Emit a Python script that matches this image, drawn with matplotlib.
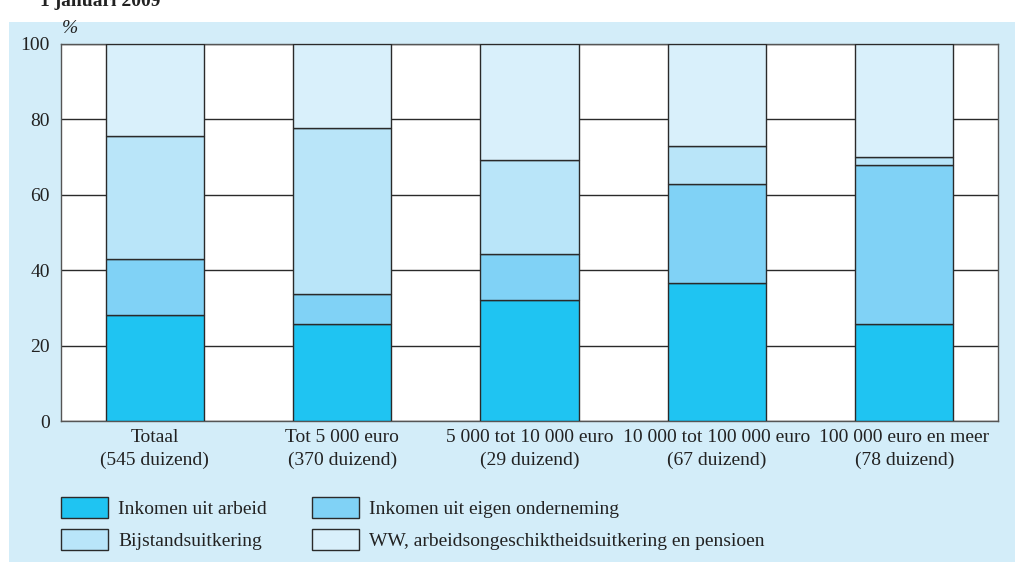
import matplotlib.pyplot as plt
import numpy as np
from matplotlib.patches import Rectangle

# data (% per inkomensklasse)
categories = ['Totaal\n(545 duizend)', 'Tot 5 000 euro\n(370 duizend)',
              '5 000 tot 10 000 euro\n(29 duizend)', '10 000 tot 100 000 euro\n(67 duizend)',
              '100 000 euro en meer\n(78 duizend)']
arbeid = [28.0, 25.7, 32.1, 36.5, 25.7]
onderneming = [15.0, 8.0, 12.2, 26.4, 42.2]
bijstand = [32.7, 44.0, 24.9, 10.0, 2.1]
ww = [24.3, 22.3, 30.8, 27.1, 30.0]
series_names = ['Inkomen uit arbeid', 'Inkomen uit eigen onderneming',
                'Bijstandsuitkering', 'WW, arbeidsongeschiktheidsuitkering en pensioen']
colors = ['#1fc4f2', '#80d2f6', '#b9e5f9', '#d9f0fb']

plt.rcParams['font.family'] = ['Liberation Serif', 'DejaVu Serif']
FS = 14

fig = plt.figure(figsize=(10.15, 5.62), dpi=100)
fig.patch.set_facecolor('white')
fig.add_artist(Rectangle((9 / 1015, 0), 1, 1 - 22 / 562, transform=fig.transFigure,
                         facecolor='#d3edf9', edgecolor='none', zorder=-10))
fig.text(40 / 1015, 1 - 6 / 562, '1 januari 2009', fontsize=14, fontweight='bold',
         color='#222222', va='baseline', ha='left')

ax = fig.add_axes([61 / 1015, 1 - 421 / 562, 937 / 1015, 377 / 562])
ax.set_facecolor('white')
x = np.arange(len(categories))
bottom = np.zeros(len(categories))
for vals, col, name in zip([arbeid, onderneming, bijstand, ww], colors, series_names):
    ax.bar(x, vals, width=0.523, bottom=bottom, color=col, edgecolor='#2a2a2a',
           linewidth=1.0, label=name, zorder=3)
    bottom += np.array(vals)

ax.set_xlim(-0.5, len(categories) - 0.5)
ax.set_ylim(0, 100)
ax.set_yticks([0, 20, 40, 60, 80, 100])
ax.set_xticks(x)
ax.set_xticklabels(categories, fontsize=FS, color='#222222', linespacing=1.4)
ax.tick_params(axis='both', length=0, labelsize=FS, colors='#222222')
ax.tick_params(axis='x', pad=6)
ax.tick_params(axis='y', pad=8)
ax.yaxis.grid(True, color='#2a2a2a', linewidth=1.0, zorder=1)
for s in ax.spines.values():
    s.set_color('#555555')
    s.set_linewidth(1.0)

fig.text(62 / 1015, 1 - 33 / 562, '%', fontsize=FS, color='#222222', style='italic',
         va='baseline')

handles, labels = ax.get_legend_handles_labels()
order = [0, 2, 1, 3]
leg = fig.legend([handles[i] for i in order], [labels[i] for i in order],
                 loc='upper left', bbox_to_anchor=(61 / 1015, 1 - 497 / 562), ncol=2,
                 frameon=False, fontsize=FS, handlelength=2.4, handleheight=1.3,
                 handletextpad=0.55, columnspacing=2.3, labelspacing=0.55,
                 borderaxespad=0, borderpad=0)
for t in leg.get_texts():
    t.set_color('#222222')

fig.savefig('out.png', dpi=100, facecolor=fig.get_facecolor())
